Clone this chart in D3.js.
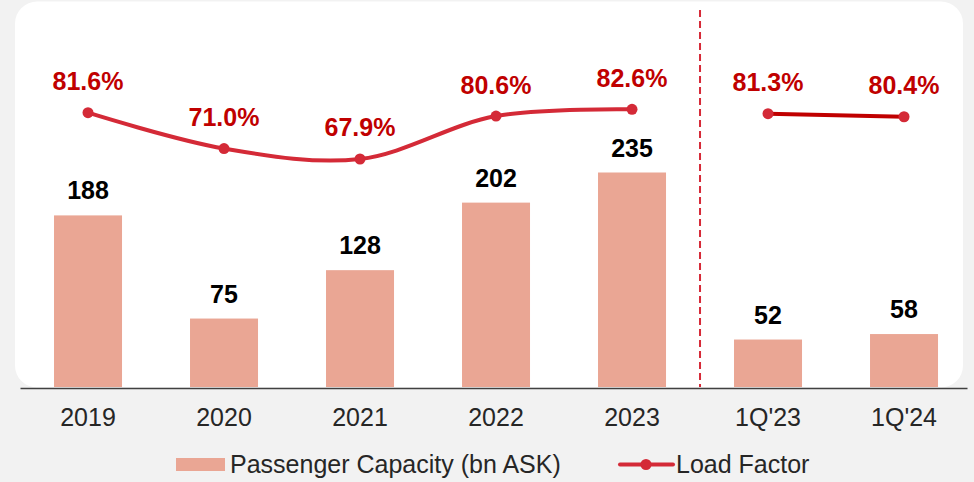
<!DOCTYPE html>
<html>
<head>
<meta charset="utf-8">
<script src="https://cdn.jsdelivr.net/npm/d3@7"></script>
<style>
  html, body { margin: 0; padding: 0; background: #f2f2f2; }
  svg { display: block; font-family: "Liberation Sans", Arial, sans-serif; }
</style>
</head>
<body>
<svg id="chart" width="974" height="482"></svg>
<script>
const categories = ["2019", "2020", "2021", "2022", "2023", "1Q'23", "1Q'24"];
const capacity = [188, 75, 128, 202, 235, 52, 58];
const loadFactor = [81.6, 71.0, 67.9, 80.6, 82.6, 81.3, 80.4];
const periodGroup = ["year", "year", "year", "year", "year", "quarter", "quarter"];
const legendLabels = ["Passenger Capacity (bn ASK)", "Load Factor"];

const data = categories.map((c, i) => ({ cat: c, cap: capacity[i], lf: loadFactor[i], grp: periodGroup[i] }));

const svg = d3.select("#chart");
const W = 974, H = 482;

const barColor = "#eaa694";
const lineColor = "#d42a37";
const lineColor2 = "#c00000";
const labelRed = "#c00000";

// panel
svg.append("rect").attr("x", 0).attr("y", 0).attr("width", W).attr("height", H).attr("fill", "#f2f2f2");
svg.append("rect").attr("x", 15).attr("y", 1.5).attr("width", 948).attr("height", 386)
  .attr("rx", 22).attr("ry", 22).attr("fill", "#ffffff");

const x = d3.scaleBand().domain(categories).range([20, 967])
  .paddingInner(0.5).paddingOuter(0.2316).align(0.54);
const y = d3.scaleLinear().domain([0, 235]).range([387, 172.5]);
const yL = d3.scaleLinear().domain([60, 90]).range([185.7, 84.3]);
const cx = c => x(c) + x.bandwidth() / 2;

// bars
svg.append("g").selectAll("rect").data(data).join("rect")
  .attr("x", d => x(d.cat)).attr("width", x.bandwidth())
  .attr("y", d => y(d.cap)).attr("height", d => y(0) - y(d.cap))
  .attr("fill", barColor);

// bar labels
svg.append("g").selectAll("text").data(data).join("text")
  .attr("x", d => cx(d.cat)).attr("y", d => y(d.cap) - 16)
  .attr("text-anchor", "middle").attr("font-size", 25).attr("font-weight", "bold")
  .attr("fill", "#000").text(d => d.cap);

// divider
const lastYear = data.filter(d => d.grp === "year").slice(-1)[0].cat;
const firstQ = data.filter(d => d.grp === "quarter")[0].cat;
const divX = (x(lastYear) + x.bandwidth() + x(firstQ)) / 2;
svg.append("line").attr("x1", divX).attr("x2", divX).attr("y1", 10).attr("y2", y(0))
  .attr("stroke", "#d62937").attr("stroke-width", 2).attr("stroke-dasharray", "7,4");

// axis baseline
const xAxis = d3.axisBottom(x).tickSize(0).tickPadding(0);
const ax = svg.append("g").attr("transform", `translate(0,${y(0) + 1})`).call(xAxis);
ax.select(".domain").attr("stroke", "#404040").attr("stroke-width", 1.5);
ax.selectAll(".tick text").attr("font-size", 25).attr("fill", "#262626")
  .attr("font-family", "Liberation Sans, Arial, sans-serif")
  .attr("dy", null).attr("y", 38);

// lines
const lineSmooth = d3.line().x(d => cx(d.cat)).y(d => yL(d.lf)).curve(d3.curveCatmullRom.alpha(0.5));
const lineStraight = d3.line().x(d => cx(d.cat)).y(d => yL(d.lf));
const years = data.filter(d => d.grp === "year");
const quarters = data.filter(d => d.grp === "quarter");
svg.append("path").datum(years).attr("d", lineSmooth)
  .attr("fill", "none").attr("stroke", lineColor).attr("stroke-width", 4).attr("stroke-linecap", "round");
svg.append("path").datum(quarters).attr("d", lineStraight)
  .attr("fill", "none").attr("stroke", lineColor2).attr("stroke-width", 4);

svg.append("g").selectAll("circle").data(data).join("circle")
  .attr("cx", d => cx(d.cat)).attr("cy", d => yL(d.lf)).attr("r", 5.5).attr("fill", lineColor);

svg.append("g").selectAll("text").data(data).join("text")
  .attr("x", d => cx(d.cat)).attr("y", d => yL(d.lf) - 22.5)
  .attr("text-anchor", "middle").attr("font-size", 25).attr("font-weight", "bold")
  .attr("fill", labelRed).text(d => d.lf.toFixed(1) + "%");

// legend
const lg = svg.append("g");
lg.append("rect").attr("x", 176).attr("y", 458).attr("width", 49).attr("height", 13).attr("fill", barColor);
lg.append("text").attr("x", 230).attr("y", 472.5).attr("font-size", 25).attr("fill", "#262626").text(legendLabels[0]);
lg.append("line").attr("x1", 620).attr("x2", 673).attr("y1", 464.5).attr("y2", 464.5)
  .attr("stroke", lineColor).attr("stroke-width", 4).attr("stroke-linecap", "round");
lg.append("circle").attr("cx", 646).attr("cy", 464.5).attr("r", 5.5).attr("fill", lineColor);
lg.append("text").attr("x", 676).attr("y", 472.5).attr("font-size", 25).attr("fill", "#262626").text(legendLabels[1]);
</script>
</body>
</html>
